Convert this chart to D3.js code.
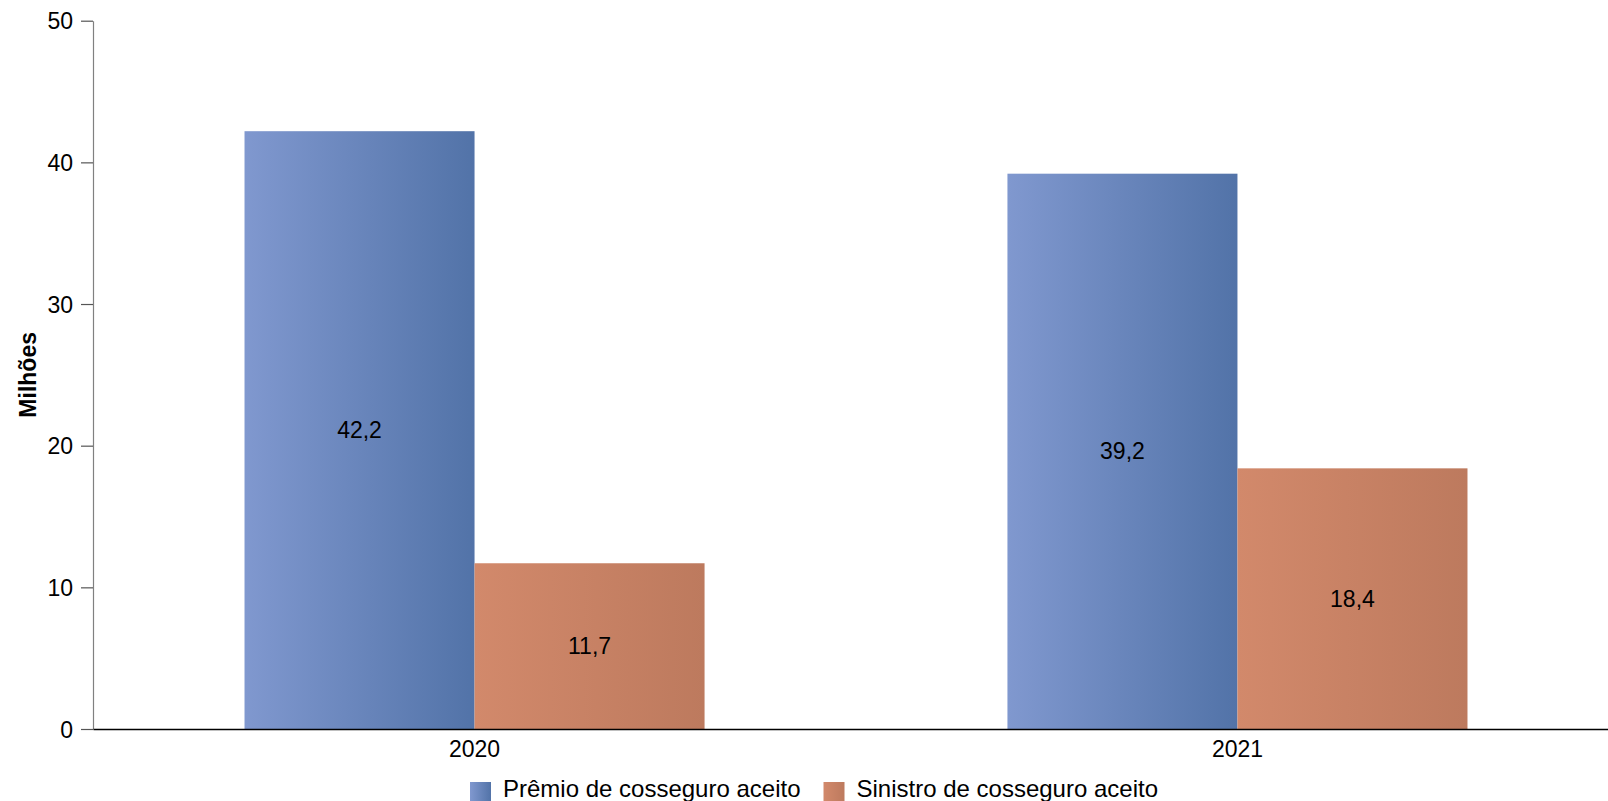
<!DOCTYPE html>
<html>
<head>
<meta charset="utf-8">
<script src="https://cdn.jsdelivr.net/npm/d3@7"></script>
<style>
  body { margin: 0; background: #fff; }
  svg { display: block; font-family: "Liberation Sans", Arial, sans-serif; }
</style>
</head>
<body>
<div id="datavis"></div>
<script>
// chart values
const YEARS = ["2020", "2021"];
const SERIES = ["Prêmio de cosseguro aceito", "Sinistro de cosseguro aceito"];
const PREMIO = [42.2, 39.2];
const SINISTRO = [11.7, 18.4];
const Y_TICKS = [0, 10, 20, 30, 40, 50];

// gradient colours per series (left -> right)
const COLORS = [["#8098cf", "#5273a8"], ["#d2896b", "#bd7a5e"]];

const MARGIN = {top: 20.7, right: 0, bottom: 72, left: 93},
    FULL_W = 1608, FULL_H = 801,
    HEIGHT = FULL_H - MARGIN.top - MARGIN.bottom;

const svg = d3.select("#datavis")
  .append("svg")
    .attr("width", FULL_W)
    .attr("height", FULL_H);

const defs = svg.append("defs");
COLORS.forEach((c, i) => {
  const g = defs.append("linearGradient")
    .attr("id", "grad" + i)
    .attr("x1", "0%").attr("x2", "100%")
    .attr("y1", "0%").attr("y2", "0%");
  g.append("stop").attr("offset", "0%").attr("stop-color", c[0]);
  g.append("stop").attr("offset", "100%").attr("stop-color", c[1]);
});

const g = svg.append("g")
  .attr("transform", "translate(" + MARGIN.left + "," + MARGIN.top + ")");

const data = YEARS.map((yr, i) => ({year: yr, values: [PREMIO[i], SINISTRO[i]]}));

// X scales (plot runs a bit past the right edge like the original)
const x0 = d3.scaleBand()
  .domain(YEARS)
  .range([0, 1526])
  .paddingInner(0.397)
  .paddingOuter(0.1986);

const x1 = d3.scaleBand()
  .domain(d3.range(SERIES.length))
  .range([0, x0.bandwidth()])
  .padding(0);

const y = d3.scaleLinear()
  .domain([0, 50])
  .range([HEIGHT, 0]);

const fmt = (v) => d3.format(".1f")(v).replace(".", ",");

// bars
const groups = g.selectAll(".grp")
  .data(data)
  .join("g")
    .attr("class", "grp")
    .attr("transform", (d) => "translate(" + x0(d.year) + ",0)");

groups.selectAll("rect")
  .data((d) => d.values.map((v, i) => ({v: v, i: i})))
  .join("rect")
    .attr("x", (d) => x1(d.i))
    .attr("width", x1.bandwidth())
    .attr("y", (d) => y(d.v))
    .attr("height", (d) => HEIGHT - y(d.v))
    .attr("fill", (d) => "url(#grad" + d.i + ")");

groups.selectAll(".lbl")
  .data((d) => d.values.map((v, i) => ({v: v, i: i})))
  .join("text")
    .attr("class", "lbl")
    .attr("x", (d) => x1(d.i) + x1.bandwidth() / 2)
    .attr("y", (d) => (y(d.v) + HEIGHT) / 2)
    .attr("dy", "0.35em")
    .attr("text-anchor", "middle")
    .style("font-size", "23px")
    .attr("fill", "#000")
    .text((d) => fmt(d.v));

// Y axis
const yAxis = g.append("g")
  .call(d3.axisLeft(y).tickValues(Y_TICKS).tickSize(12).tickSizeOuter(0).tickPadding(8));
yAxis.select(".domain").attr("stroke", "#808080").attr("stroke-width", 1.2);
yAxis.selectAll(".tick line").attr("stroke", "#555").attr("stroke-width", 1.2);
yAxis.selectAll(".tick text")
  .attr("dy", "0.35em")
  .style("font-size", "23px")
  .attr("fill", "#000");

// X axis
const xAxis = g.append("g")
  .attr("transform", "translate(0," + HEIGHT + ")")
  .call(d3.axisBottom(x0).tickSize(0).tickPadding(12));
xAxis.select(".domain").attr("stroke", "#000").attr("stroke-width", 1.5);
xAxis.selectAll(".tick text")
  .style("font-size", "23px")
  .attr("fill", "#000");

// Y axis title
svg.append("text")
  .attr("transform", "translate(36," + (MARGIN.top + HEIGHT / 2) + ") rotate(-90)")
  .attr("text-anchor", "middle")
  .style("font-size", "23px")
  .style("font-weight", "bold")
  .attr("fill", "#000")
  .text("Milhões");

// legend
let lx = 470;
SERIES.forEach((s, i) => {
  svg.append("rect")
    .attr("x", lx).attr("y", 782)
    .attr("width", 21).attr("height", 21)
    .attr("fill", "url(#grad" + i + ")");
  const t = svg.append("text")
    .attr("x", lx + 33).attr("y", 797)
    .style("font-size", "24px")
    .attr("fill", "#000")
    .text(s);
  lx = lx + 33 + t.node().getComputedTextLength() + 23;
});
</script>
</body>
</html>
